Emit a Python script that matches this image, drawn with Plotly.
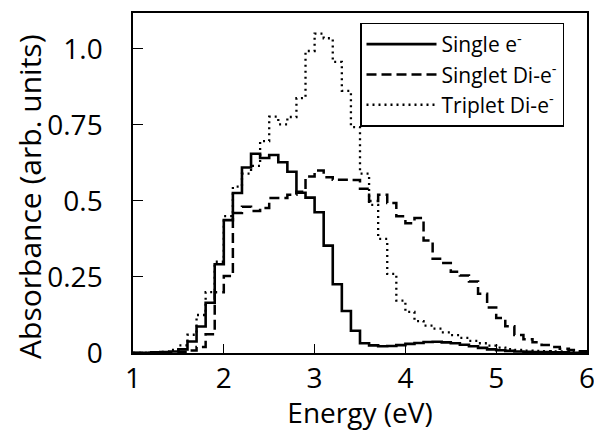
import plotly.graph_objects as go

# Bin starts (eV), bin width 0.1 eV
bin_start = [1.0, 1.1, 1.2, 1.3, 1.4, 1.5, 1.6, 1.7, 1.8, 1.9,
             2.0, 2.1, 2.2, 2.3, 2.4, 2.5, 2.6, 2.7, 2.8, 2.9,
             3.0, 3.1, 3.2, 3.3, 3.4, 3.5, 3.6, 3.7, 3.8, 3.9,
             4.0, 4.1, 4.2, 4.3, 4.4, 4.5, 4.6, 4.7, 4.8, 4.9,
             5.0, 5.1, 5.2, 5.3, 5.4, 5.5, 5.6, 5.7, 5.8, 5.9]
last_edge = 6.0

single_e = [0.001, 0.001, 0.002, 0.003, 0.005, 0.012, 0.038, 0.087, 0.165, 0.292,
            0.437, 0.526, 0.610, 0.655, 0.641, 0.651, 0.627, 0.596, 0.527, 0.511,
            0.463, 0.353, 0.226, 0.138, 0.073, 0.032, 0.025, 0.022, 0.023, 0.026,
            0.030, 0.033, 0.036, 0.037, 0.035, 0.032, 0.027, 0.022, 0.017, 0.012,
            0.009, 0.007, 0.005, 0.004, 0.003, 0.003, 0.002, 0.002, 0.001, 0.001]

singlet_di_e = [0.000, 0.000, 0.000, 0.001, 0.002, 0.004, 0.008, 0.020, 0.062, 0.200,
                0.253, 0.460, 0.481, 0.467, 0.477, 0.510, 0.510, 0.520, 0.530, 0.580,
                0.600, 0.578, 0.570, 0.570, 0.569, 0.540, 0.500, 0.520, 0.493, 0.450,
                0.427, 0.444, 0.370, 0.310, 0.296, 0.267, 0.255, 0.235, 0.195, 0.150,
                0.115, 0.088, 0.059, 0.045, 0.035, 0.026, 0.020, 0.014, 0.010, 0.006]

triplet_di_e = [0.000, 0.000, 0.001, 0.004, 0.010, 0.025, 0.060, 0.125, 0.200, 0.300,
                0.450, 0.547, 0.590, 0.615, 0.697, 0.777, 0.752, 0.776, 0.838, 0.993,
                1.050, 1.035, 0.957, 0.862, 0.743, 0.590, 0.487, 0.375, 0.260, 0.172,
                0.135, 0.105, 0.090, 0.080, 0.068, 0.059, 0.050, 0.040, 0.032, 0.024,
                0.018, 0.013, 0.010, 0.008, 0.007, 0.006, 0.005, 0.005, 0.005, 0.005]

series_names = ["Single e<sup>-</sup>", "Singlet Di-e<sup>-</sup>", "Triplet Di-e<sup>-</sup>"]

y_tickvals = [0, 0.25, 0.5, 0.75, 1.0]
y_ticktext = ["0", "0.25", "0.5", "0.75", "1.0"]
x_tickvals = [1, 2, 3, 4, 5, 6]

x_title = "Energy (eV)"
y_title = "Absorbance (arb. units)"

FONT = "Open Sans"

x_edges = bin_start + [last_edge]

def steps(vals):
    return vals + [vals[-1]]

fig = go.Figure()
styles = [
    dict(width=2.6, dash="solid"),
    dict(width=2.5, dash="10px,5px"),
    dict(width=2.3, dash="2px,4px"),
]
for i, (name, vals) in enumerate(zip(series_names, [single_e, singlet_di_e, triplet_di_e])):
    fig.add_trace(go.Scatter(
        x=x_edges, y=steps(vals), mode="lines", name=name,
        line=dict(color="black", shape="hv", **styles[i]),
        legendgroup=f"g{i}",
    ))

fig.update_layout(
    width=594, height=431,
    margin=dict(l=133, r=7, t=13, b=78),
    paper_bgcolor="white", plot_bgcolor="white",
    font=dict(family=FONT, color="black"),
    showlegend=True,
    legend=dict(
        x=0.5, y=0.972, xanchor="left", yanchor="top",
        bordercolor="black", borderwidth=1.5, bgcolor="white",
        font=dict(size=21, family=FONT), itemwidth=70, tracegroupgap=0,
    ),
    xaxis=dict(
        range=[1, 6], tickvals=x_tickvals, ticks="inside", ticklen=9, tickwidth=1.2,
        tickcolor="black", showline=True, linecolor="black", linewidth=1.5, mirror=True,
        showgrid=False, zeroline=False, automargin=False,
        tickfont=dict(size=28, family=FONT), ticklabeloverflow="allow",
        title=dict(text=x_title, font=dict(size=28, family=FONT), standoff=0),
        ticklabelstandoff=0,
    ),
    yaxis=dict(
        range=[0, 1.118], tickvals=y_tickvals, ticktext=y_ticktext, ticks="inside",
        ticklen=10, tickwidth=1.2, tickcolor="black", showline=True, linecolor="black",
        linewidth=1.5, mirror=True, showgrid=False, zeroline=False, automargin=False,
        tickfont=dict(size=28, family=FONT),
        ticklabelstandoff=23,
    ),
    annotations=[dict(
        text=y_title, textangle=-90, xref="paper", yref="paper",
        x=-0.227, y=0.459, xanchor="center", yanchor="middle", showarrow=False,
        font=dict(size=30, family=FONT),
    )],
)

fig.write_html("out.html", config={"displayModeBar": False},
               post_script="document.body.style.margin='0';document.body.style.overflow='hidden';")
